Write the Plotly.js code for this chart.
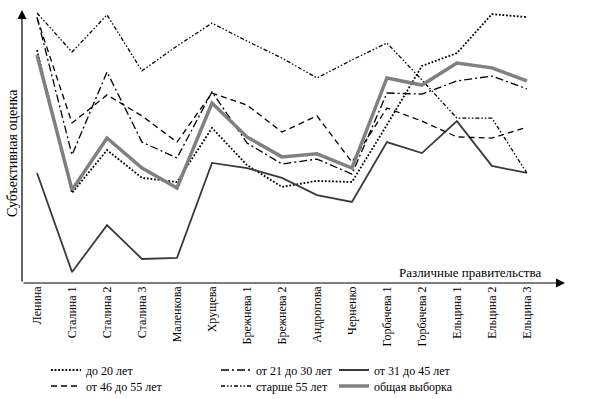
<!DOCTYPE html>
<html>
<head>
<meta charset="utf-8">
<script src="https://cdn.plot.ly/plotly-3.0.1.min.js"></script>
<style>html,body{margin:0;padding:0;background:#fff;font-family:"Liberation Serif",serif;}#chart{width:590px;height:399px;}</style>
</head>
<body>
<div id="chart"></div>
<script>
// Categories (governments)
const categories = ["Ленина","Сталина 1","Сталина 2","Сталина 3","Маленкова","Хрущева","Брежнева 1","Брежнева 2","Андропова","Черненко","Горбачева 1","Горбачева 2","Ельцина 1","Ельцина 2","Ельцина 3"];

// Series values (subjective score, 0–10 scale)
const under20   = [8.53,3.30,4.87,3.85,3.70,5.68,4.32,3.52,3.74,3.70,5.79,7.95,8.42,9.85,9.74];
const age21to30 = [9.74,4.69,7.73,5.16,4.58,7.00,5.13,4.36,4.54,3.99,6.96,6.92,7.40,7.58,7.11];
const age31to45 = [4.03,0.40,2.12,0.88,0.92,4.40,4.21,3.85,3.22,2.97,5.16,4.76,5.93,4.29,4.03];
const age46to55 = [9.71,5.86,6.89,6.12,5.16,6.96,6.52,5.53,6.12,4.43,6.41,5.93,5.35,5.31,5.71];
const over55    = [9.89,8.46,9.82,7.77,8.68,9.52,8.86,8.24,7.51,8.17,8.79,7.44,6.04,6.04,4.03];
const totalAll  = [8.35,3.41,5.31,4.21,3.48,6.59,5.35,4.62,4.73,4.21,7.51,7.25,8.06,7.88,7.40];

const seriesNames = ["до 20 лет","от 21 до 30 лет","от 31 до 45 лет","от 46 до 55 лет","старше 55 лет","общая выборка"];
const axisTitleY = "Субъективная оценка";
const axisTitleX = "Различные правительства";

const FONT = "Times New Roman, Liberation Serif, serif";
const xIdx = categories.map((c, i) => i);

const traces = [
  {y: under20,   name: seriesNames[0], legend: "legend",  line: {color: "#000", width: 1.8, dash: "1.8px,1.8px"}},
  {y: age21to30, name: seriesNames[1], legend: "legend2", line: {color: "#000", width: 1.3, dash: "8px,3px,2px,3px"}},
  {y: age31to45, name: seriesNames[2], legend: "legend3", line: {color: "#3a3a3a", width: 1.8}},
  {y: age46to55, name: seriesNames[3], legend: "legend4", line: {color: "#000", width: 1.3, dash: "6px,4px"}},
  {y: over55,    name: seriesNames[4], legend: "legend5", line: {color: "#000", width: 1.3, dash: "4px,2px,1.5px,2px,1.5px,2px"}},
  {y: totalAll,  name: seriesNames[5], legend: "legend6", line: {color: "#808080", width: 3.5}}
].map(t => Object.assign({x: xIdx, type: "scatter", mode: "lines", hoverinfo: "skip"}, t));

const W = 590, H = 399;
const mL = 22, mR = 25, mT = 10, mB = 116;
const pw = W - mL - mR, ph = H - mT - mB;

function leg(px, py) {
  return {x: px / W, y: 1 - py / H, xref: "container", yref: "container",
          xanchor: "left", yanchor: "middle", bgcolor: "rgba(0,0,0,0)",
          borderwidth: 0, font: {family: FONT, size: 12, color: "#000"}};
}

const layout = {
  width: W, height: H,
  margin: {l: mL, r: mR, t: mT, b: mB, pad: 0, autoexpand: false},
  paper_bgcolor: "#fff", plot_bgcolor: "#fff",
  showlegend: true,
  font: {family: FONT, size: 12, color: "#000"},
  xaxis: {
    range: [-0.43, 15.09], automargin: false,
    tickmode: "array", tickvals: xIdx, ticktext: categories,
    showgrid: false, zeroline: false, showline: false, ticks: "",
    tickangle: -90, tickfont: {family: FONT, size: 12, color: "#000"}
  },
  yaxis: {
    range: [0, 10], automargin: false, showgrid: false, zeroline: false, showline: false,
    showticklabels: false, ticks: ""
  },
  legend:  leg(46, 370),
  legend2: leg(216, 370),
  legend3: leg(334, 370),
  legend4: leg(46, 386),
  legend5: leg(216, 386),
  legend6: leg(334, 386),
  annotations: [
    {x: 1, y: 0, xref: "paper", yref: "paper", ax: -pw, ay: 0, axref: "pixel", ayref: "pixel",
     showarrow: true, arrowhead: 2, arrowsize: 1.5, arrowwidth: 1.2, arrowcolor: "#000", text: "", standoff: 0},
    {x: 0, y: 1, xref: "paper", yref: "paper", ax: 0, ay: ph, axref: "pixel", ayref: "pixel",
     showarrow: true, arrowhead: 2, arrowsize: 1.5, arrowwidth: 1.2, arrowcolor: "#000", text: "", standoff: 0},
    {x: (543 - mL) / pw, y: (283 - 272) / ph, xref: "paper", yref: "paper", xanchor: "right", yanchor: "middle",
     showarrow: false, text: axisTitleX, font: {family: FONT, size: 13, color: "#000"}},
    {x: (12 - mL) / pw, y: (283 - 153) / ph, xref: "paper", yref: "paper", xanchor: "center", yanchor: "middle",
     textangle: -90, showarrow: false, text: axisTitleY, font: {family: FONT, size: 14, color: "#000"}}
  ]
};

Plotly.newPlot("chart", traces, layout, {displayModeBar: false, staticPlot: true});
</script>
</body>
</html>
